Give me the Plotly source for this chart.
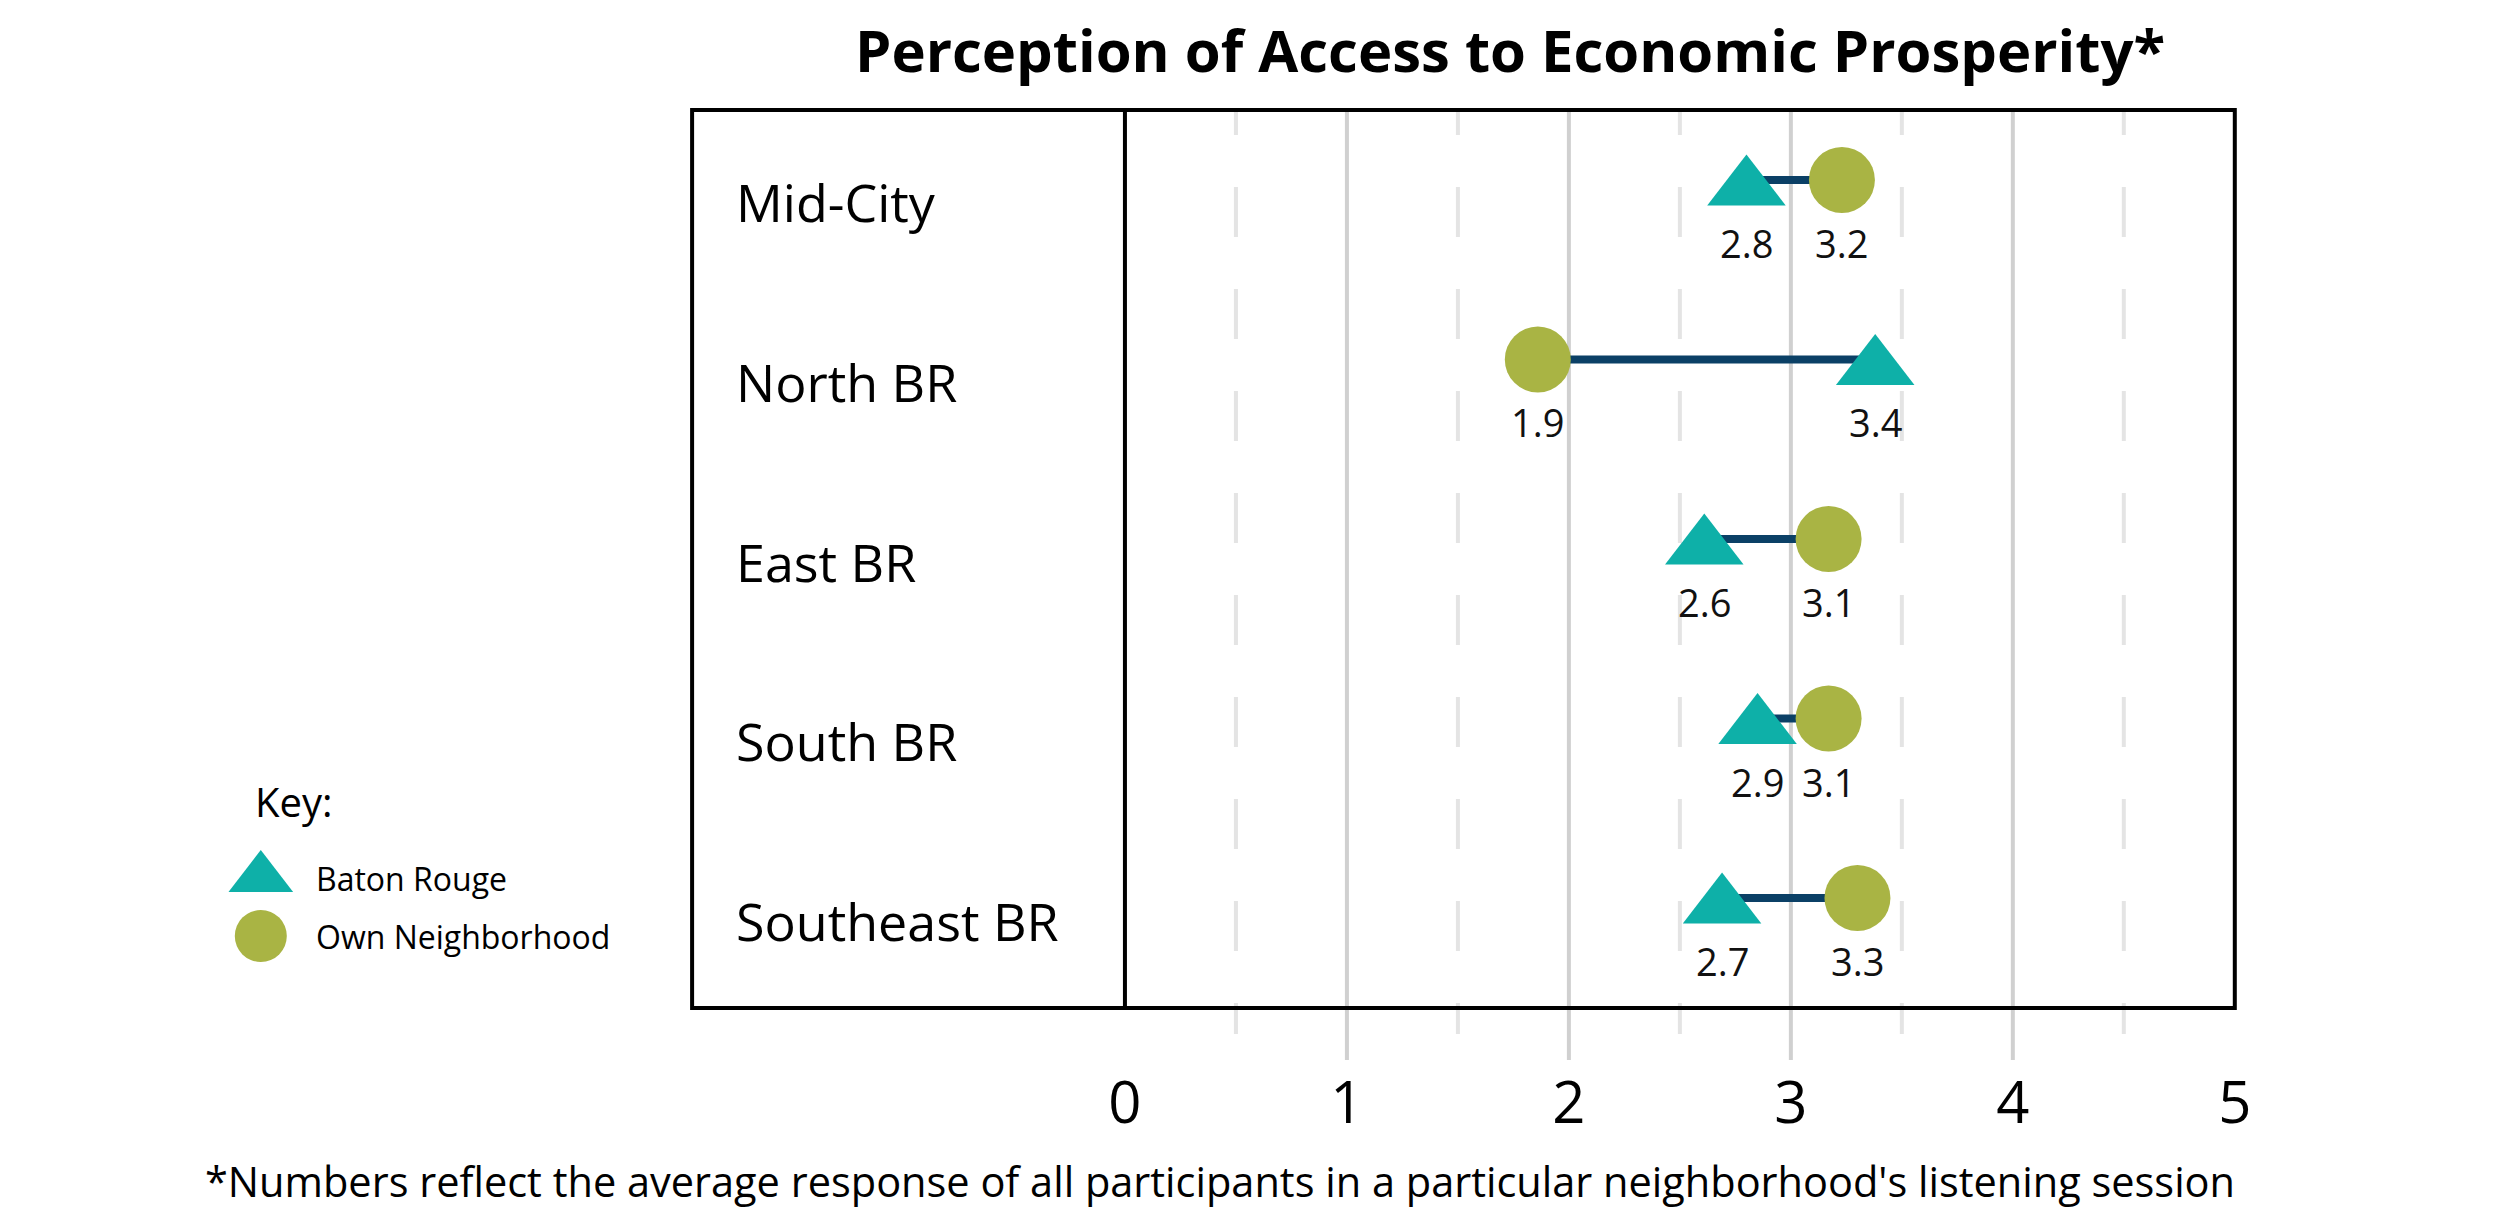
import plotly.graph_objects as go

# ---------------- data ----------------
neighborhoods = ["Mid-City", "North BR", "East BR", "South BR", "Southeast BR"]
baton_rouge = [2.80, 3.38, 2.61, 2.85, 2.69]
own_neighborhood = [3.23, 1.86, 3.17, 3.17, 3.30]
baton_rouge_labels = ["2.8", "3.4", "2.6", "2.9", "2.7"]
own_neighborhood_labels = ["3.2", "1.9", "3.1", "3.1", "3.3"]
series_names = ["Baton Rouge", "Own Neighborhood"]
x_ticks = [0, 1, 2, 3, 4, 5]
major_grid = [1, 2, 3, 4]
minor_grid = [0.5, 1.5, 2.5, 3.5, 4.5]
title_text = "Perception of Access to Economic Prosperity*"
footnote_text = ("*Numbers reflect the average response of all participants "
                 "in a particular neighborhood's listening session")

# ---------------- style ----------------
W, H = 2500, 1210
TEAL = "#0eb0a8"
OLIVE = "#a9b444"
NAVY = "#0b4066"
FONT = "Open Sans"


def fx(px):
    return px / W


def fy(py):
    return 1 - py / H


PLOT_TOP, PLOT_BOTTOM = 108, 1058
BOX_TOP, BOX_BOTTOM = 110, 1008
ROW_PX = 179.5
FIRST_ROW = 180
y_top = -(FIRST_ROW - PLOT_TOP) / ROW_PX
y_bottom = (PLOT_BOTTOM - FIRST_ROW) / ROW_PX
tri_shift = 8.5 / ROW_PX

fig = go.Figure()

# connecting lines
lx, ly = [], []
for n, a, b in zip(neighborhoods, baton_rouge, own_neighborhood):
    lx += [a, b, None]
    ly += [n, n, None]
fig.add_trace(go.Scatter(x=lx, y=ly, mode="lines",
                         line=dict(color=NAVY, width=8),
                         showlegend=False, hoverinfo="skip"))

fig.add_trace(go.Scatter(x=own_neighborhood, y=neighborhoods, mode="markers",
                         name=series_names[1],
                         marker=dict(symbol="circle", size=66, color=OLIVE,
                                     opacity=1, line=dict(width=0)),
                         showlegend=False))
fig.add_trace(go.Scatter(x=baton_rouge, y=neighborhoods, mode="markers",
                         name=series_names[0], yaxis="y3",
                         marker=dict(symbol="triangle-up", size=68, color=TEAL,
                                     opacity=1, line=dict(width=0)),
                         showlegend=False))

# key (custom legend)
fig.add_trace(go.Scatter(x=[0.128, 0.128], y=series_names, mode="markers",
                         xaxis="x2", yaxis="y2",
                         marker=dict(symbol=["triangle-up", "circle"],
                                     size=[56, 52], color=[TEAL, OLIVE],
                                     opacity=1, line=dict(width=0)),
                         showlegend=False, hoverinfo="skip"))

annotations = []
# category labels
for n in neighborhoods:
    annotations.append(dict(x=-1.76, y=n, xref="x", yref="y", text=n,
                            showarrow=False, xanchor="left", yanchor="middle",
                            yshift=-22,
                            font=dict(family=FONT, size=52, color="#000")))
# value labels
for n, v, t in zip(neighborhoods, baton_rouge, baton_rouge_labels):
    annotations.append(dict(x=v, y=n, xref="x", yref="y", text=t,
                            showarrow=False, xanchor="center", yanchor="middle",
                            yshift=-63,
                            font=dict(family=FONT, size=38, color="#111")))
for n, v, t in zip(neighborhoods, own_neighborhood, own_neighborhood_labels):
    annotations.append(dict(x=v, y=n, xref="x", yref="y", text=t,
                            showarrow=False, xanchor="center", yanchor="middle",
                            yshift=-63,
                            font=dict(family=FONT, size=38, color="#111")))
# key text
annotations.append(dict(x=fx(253), y=fy(801), xref="paper", yref="paper",
                        text="Key:", showarrow=False, xanchor="left",
                        yanchor="middle",
                        font=dict(family=FONT, size=40, color="#000")))
for s in series_names:
    annotations.append(dict(x=0.24, y=s, xref="x2", yref="y2", text=s,
                            showarrow=False, xanchor="left", yanchor="middle",
                            font=dict(family=FONT, size=32, color="#000")))
# title and footnote
annotations.append(dict(x=fx(1510), y=fy(50), xref="paper", yref="paper",
                        text="<b>" + title_text + "</b>", showarrow=False,
                        xanchor="center", yanchor="middle",
                        font=dict(family=FONT, size=58, color="#000")))
annotations.append(dict(x=fx(1220), y=fy(1181), xref="paper", yref="paper",
                        text=footnote_text, showarrow=False,
                        xanchor="center", yanchor="middle",
                        font=dict(family=FONT, size=41.5, color="#000")))

shapes = []
dash_pattern = "27px,52px" + ",50px,52px" * 9
for v in major_grid:
    shapes.append(dict(type="line", xref="x", yref="paper", x0=v, x1=v,
                       y0=fy(PLOT_TOP), y1=fy(1060), layer="below",
                       line=dict(color="#d0d0d0", width=4)))
for v in minor_grid:
    shapes.append(dict(type="line", xref="x", yref="paper", x0=v, x1=v,
                       y0=fy(PLOT_TOP), y1=fy(1034), layer="below",
                       line=dict(color="#e4e4e4", width=4, dash=dash_pattern)))
shapes.append(dict(type="rect", xref="x", yref="paper", x0=-1.95, x1=5.0,
                   y0=fy(BOX_BOTTOM), y1=fy(BOX_TOP), layer="below",
                   line=dict(color="#000", width=4), fillcolor="rgba(0,0,0,0)"))
shapes.append(dict(type="line", xref="x", yref="paper", x0=0, x1=0,
                   y0=fy(BOX_BOTTOM), y1=fy(BOX_TOP), layer="below",
                   line=dict(color="#000", width=4)))

y_domain = [fy(PLOT_BOTTOM), fy(PLOT_TOP)]

fig.update_layout(
    width=W, height=H,
    margin=dict(l=0, r=0, t=0, b=0, pad=0),
    paper_bgcolor="white", plot_bgcolor="rgba(0,0,0,0)",
    showlegend=False,
    font=dict(family=FONT, color="#000"),
    xaxis=dict(domain=[fx(681), fx(2257)], range=[-2.0, 5.1],
               tickvals=x_ticks, ticktext=[str(t) for t in x_ticks],
               showgrid=False, zeroline=False, showline=False, ticks="",
               ticklabelstandoff=6,
               tickfont=dict(family=FONT, size=58, color="#000"),
               anchor="y", fixedrange=True),
    yaxis=dict(domain=y_domain, type="category",
               categoryorder="array", categoryarray=neighborhoods,
               range=[y_bottom, y_top], showticklabels=False,
               showgrid=False, zeroline=False, showline=False, ticks=""),
    yaxis3=dict(domain=y_domain, type="category", overlaying="y",
                categoryorder="array", categoryarray=neighborhoods,
                range=[y_bottom - tri_shift, y_top - tri_shift],
                showticklabels=False, showgrid=False, zeroline=False,
                showline=False, ticks=""),
    xaxis2=dict(domain=[0.08, 0.27], range=[0, 1], visible=False,
                anchor="y2"),
    yaxis2=dict(domain=[fy(965), fy(849)], type="category",
                categoryorder="array", categoryarray=series_names,
                range=[1.5, -0.5], visible=False, anchor="x2"),
    annotations=annotations,
    shapes=shapes,
)

fig.write_html("out.html",
               config={"displayModeBar": False},
               post_script="document.body.style.margin='0';"
                           "document.body.style.overflow='hidden';")
